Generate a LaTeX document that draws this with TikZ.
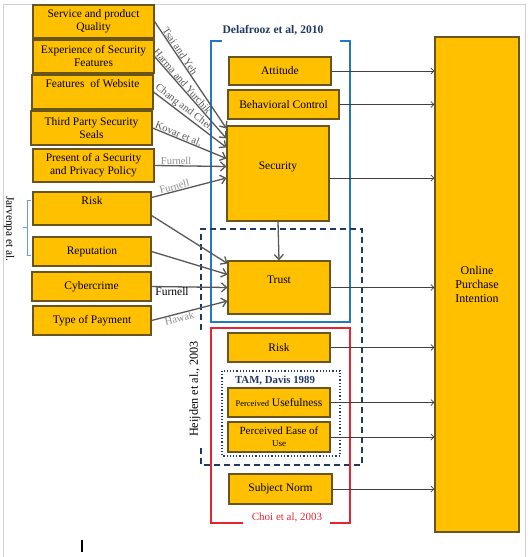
\documentclass[tikz,border=0pt]{standalone}
\usepackage{fontspec}
\setmainfont{Liberation Serif}
\usepackage{tikz}
\usetikzlibrary{arrows.meta,calc}
\definecolor{boxfill}{RGB}{255,192,0}
\definecolor{boxline}{RGB}{105,85,25}
\definecolor{arrowgray}{RGB}{88,88,88}
\definecolor{citegray}{RGB}{140,140,140}
\definecolor{delablue}{RGB}{35,120,195}
\definecolor{navy}{RGB}{32,56,100}
\definecolor{choired}{RGB}{228,38,50}
\definecolor{framegray}{RGB}{208,208,208}

\begin{document}
\begin{tikzpicture}[x=1pt,y=-1pt,
  factor/.style={draw=boxline,fill=boxfill,line width=1.1pt,inner sep=1pt,align=center,
    font=\fontsize{11.5}{13}\selectfont},
  cite/.style={font=\fontsize{10.5}{11}\selectfont,text=arrowgray,inner sep=0.5pt},
  infl/.style={draw=arrowgray,line width=1.3pt,-{Straight Barb[length=5pt,width=9pt]}},
  toopi/.style={draw=black!75,line width=0.7pt,-{Straight Barb[length=3pt,width=6pt]}}]
\useasboundingbox (0,0) rectangle (531,557);
% page frame:
\draw[framegray,line width=1pt] (3,557) -- (3,4) -- (525,4) -- (525,557);

% factors on the left:
\node[factor,minimum width=121,minimum height=33] (quality) at (93.5,21.5) {Service and product\\Quality};
\node[factor,minimum width=121,minimum height=33] (expfeat) at (93.5,56.5) {Experience of Security\\Features};
\node[factor,minimum width=121,minimum height=34] (website) at (92.5,92) {Features\enspace of Website\\\strut};
\node[factor,minimum width=121,minimum height=34] (seals) at (91.5,128) {Third Party Security\\Seals};
\node[factor,minimum width=121,minimum height=33] (policy) at (93.5,165.5) {Present of a Security\\and Privacy Policy};
\node[factor,minimum width=118,minimum height=33] (riskl) at (92,208.5) {Risk\\\strut};
\node[factor,minimum width=118,minimum height=29] (reputation) at (92,251.5) {Reputation};
\node[factor,minimum width=119,minimum height=29] (cyber) at (91.5,286.5) {Cybercrime};
\node[factor,minimum width=118,minimum height=29] (payment) at (92,320.5) {Type of Payment};

% brace and label for Jarvenpa:
\draw[delablue!70,line width=0.6pt] (31,200) -- (27,200) -- (27,255) -- (31,255) (27,227) -- (23,227);
\node[font=\fontsize{11.4}{12}\selectfont,rotate=-90] (jarv) at (9,229) {Jarvenpa et al.};

% groups in the middle:
\draw[delablue,line width=1.2pt] (222,41) -- (211,41) -- (211,322) -- (350,322) -- (350,41) -- (340,41);
\node[font=\bfseries\fontsize{11.6}{13}\selectfont,text=navy] (delaf) at (273,30) {Delafrooz et al, 2010};
\draw[navy,line width=1.3pt,dash pattern=on 6pt off 4pt] (201,330) -- (201,229) -- (362,229) -- (362,465) -- (201,465) -- (201,447);
\node[font=\fontsize{12.2}{13}\selectfont,rotate=90] (heij) at (195,389) {Heijden et al., 2003};
\draw[choired,line width=1.2pt] (243,523) -- (211,523) -- (211,328) -- (350,328) -- (350,523) -- (330,523);
\node[font=\fontsize{11}{12}\selectfont,text=choired] (choi) at (287,518) {Choi et al, 2003};
\draw[navy,dotted,line width=1.2pt] (222,371) rectangle (340,456);
\node[font=\bfseries\fontsize{10.8}{12}\selectfont,text=navy] (tam) at (275,381) {TAM, Davis 1989};

\node[factor,minimum width=102,minimum height=28] (att) at (280,71) {Attitude};
\node[factor,minimum width=111,minimum height=29] (behav) at (283.5,104.5) {Behavioral Control};
\node[factor,minimum width=102,minimum height=95] (sec) at (278,173.5) {Security\\[3pt]};
\node[factor,minimum width=102,minimum height=53] (trust) at (279,287.5) {Trust\\[3pt]};
\node[factor,minimum width=102,minimum height=29] (riskm) at (279,347.5) {Risk};
\node[factor,minimum width=102,minimum height=29] (useful) at (279,402.5) {{\fontsize{8.5}{9}\selectfont Perceived} Usefulness};
\node[factor,minimum width=102,minimum height=30,font=\fontsize{11}{12}\selectfont] (ease) at (279,437) {Perceived Ease of\\{\fontsize{9}{10}\selectfont Use}};
\node[factor,minimum width=103,minimum height=30] (norm) at (280.5,489) {Subject Norm};

% outcome:
\node[factor,minimum width=84,minimum height=495,font=\fontsize{12}{14}\selectfont] (opi) at (477,284.5) {Online\\Purchase\\Intention};

% influences on security and trust:
\draw[infl] (quality.east) -- node[cite,sloped,above,pos=0.3] {Tsai and Yeh} ($(sec.west)+(0,-45)$);
\draw[infl] (expfeat.east) -- node[cite,sloped,above,pos=0.34] {Harma and Yurchik} ($(sec.west)+(0,-35)$);
\draw[infl] (website.east) -- node[cite,sloped,above,pos=0.37] {Chang and Chen} ($(sec.west)+(0,-26)$);
\draw[infl] (seals.east) -- node[cite,sloped,above,pos=0.33] {Kovar et al.} ($(sec.west)+(0,-15)$);
\draw[infl] (policy.east) -- node[cite,above,pos=0.3,text=citegray] {Furnell} ($(sec.west)+(0,-7)$);
\draw[infl] ($(riskl.east)+(0,-11)$) -- node[cite,sloped,above,pos=0.32,text=citegray] {Furnell} ($(sec.west)+(0,4.5)$);
\draw[infl] ($(riskl.east)+(0,7)$) -- ($(trust.west)+(0,-24)$);
\draw[infl] (reputation.east) -- ($(trust.west)+(0,-13)$);
\draw[infl] (cyber.east) -- node[cite,below,pos=0.27,text=black,font=\fontsize{11.5}{12}\selectfont] {Furnell} (trust.west);
\draw[infl] (payment.east) -- node[cite,sloped,below,pos=0.35,text=citegray,font=\fontsize{10.5}{11}\selectfont] {Hawak} ($(trust.west)+(0,13.5)$);
\draw[infl] (sec.south) -- (trust.north);

% links to intention:
\coordinate (secout) at ($(sec.east)+(0,4.5)$);
\draw[toopi] (att.east) -- (att.east -| opi.west);
\draw[toopi] (behav.east) -- (behav.east -| opi.west);
\draw[toopi] (secout) -- (secout -| opi.west);
\draw[toopi] (trust.east) -- (trust.east -| opi.west);
\draw[toopi] (riskm.east) -- (riskm.east -| opi.west);
\draw[toopi] (useful.east) -- (useful.east -| opi.west);
\draw[toopi] (ease.east) -- (ease.east -| opi.west);
\draw[toopi] (norm.east) -- (norm.east -| opi.west);

% stray mark:
\draw[black,line width=1.6pt] (82,540) -- (82,552);
\end{tikzpicture}
\end{document}
